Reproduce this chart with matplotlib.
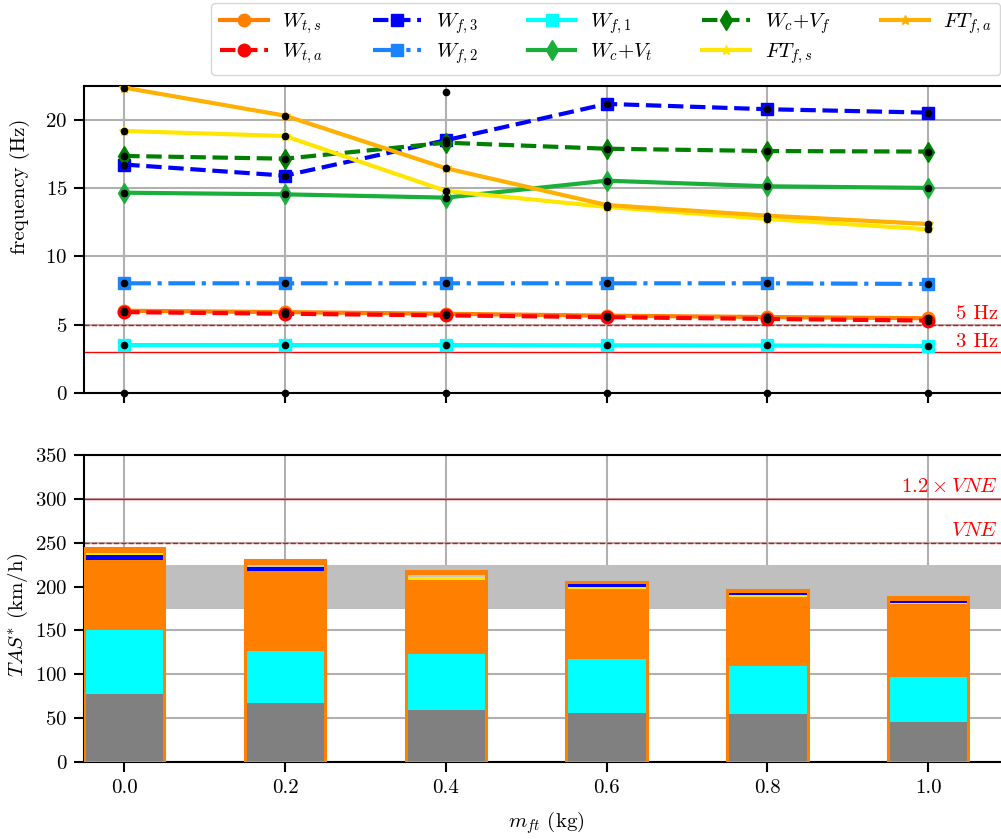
import matplotlib
matplotlib.use("Agg")
import matplotlib.pyplot as plt
import matplotlib.transforms as mtransforms
import numpy as np

plt.rcParams['font.family'] = 'serif'
plt.rcParams['font.serif'] = ['cmr10', 'DejaVu Serif']
plt.rcParams['mathtext.fontset'] = 'cm'
plt.rcParams['axes.formatter.use_mathtext'] = True
plt.rcParams['axes.unicode_minus'] = False

# ---------------- data ----------------
m_ft = [0.0, 0.2, 0.4, 0.6, 0.8, 1.0]

W_ts = [6.02, 5.92, 5.80, 5.66, 5.56, 5.47]
W_ta = [5.92, 5.80, 5.68, 5.55, 5.42, 5.30]
W_f3 = [16.72, 15.91, 18.50, 21.16, 20.77, 20.52]
W_f2 = [8.03, 8.03, 8.03, 8.03, 8.03, 7.98]
W_f1 = [3.51, 3.51, 3.51, 3.49, 3.48, 3.44]
Wc_Vt = [14.66, 14.54, 14.30, 15.54, 15.13, 15.01]
Wc_Vf = [17.35, 17.15, 18.32, 17.88, 17.71, 17.67]
FT_fs = [19.18, 18.81, 14.79, 13.62, 12.74, 11.98]
FT_fa = [22.35, 20.30, 16.45, 13.76, 12.98, 12.37]

# unassigned modes (black dots only)
extra_x = [0.0, 0.2, 0.4, 0.6, 0.8, 1.0, 0.4]
extra_f = [0.0, 0.0, 0.0, 0.0, 0.0, 0.0, 22.05]

# flutter speeds (km/h), overlaid bars
tas_total = [243.6, 230.4, 217.8, 205.4, 196.3, 188.0]
tas_yellow = [238.8, 0.0, 210.8, 199.8, 190.5, 181.5]
tas_silver = [0.0, 224.8, 212.8, 0.0, 0.0, 0.0]
tas_blue = [236.2, 222.0, 0.0, 202.4, 192.5, 183.4]
tas_orange = [229.8, 218.2, 207.0, 196.7, 188.0, 179.6]
tas_cyan = [151.0, 126.8, 123.0, 116.9, 109.7, 97.2]
tas_gray = [77.4, 66.8, 59.0, 55.8, 54.7, 45.6]

band = (175, 225)
VNE = 250

# ---------------- figure ----------------
W, H = 1001, 839
fig = plt.figure(figsize=(W / 100, H / 100), dpi=100)

left = 84 / W
width = 924.6 / W
ax1 = fig.add_axes([left, 1 - 393 / H, width, 307 / H])
ax2 = fig.add_axes([left, 1 - 762 / H, width, 307 / H])

grid_kw = dict(color='#b0b0b0', lw=1.5)
for ax in (ax1, ax2):
    ax.set_axisbelow(True)
    ax.grid(True, **grid_kw)
    ax.set_xlim(-0.05, 1.1)
    ax.set_xticks(m_ft)
    for s in ('left', 'bottom', 'top'):
        ax.spines[s].set_linewidth(1.5)
    ax.spines['right'].set_visible(False)
    ax.tick_params(axis='both', direction='out', length=7, width=1.5,
                   labelsize=15, pad=5)

lw = 3
series = [
    (W_ts, r'$W_{t,s}$', '#ff8000', '-', 'o', 9),
    (W_ta, r'$W_{t,a}$', '#ff0000', '--', 'o', 9),
    (W_f3, r'$W_{f,3}$', '#0000ff', '--', 's', 9),
    (W_f2, r'$W_{f,2}$', '#1a84ff', '-.', 's', 9),
    (W_f1, r'$W_{f,1}$', '#00ffff', '-', 's', 8),
    (Wc_Vt, r'$W_c$+$V_t$', '#1aaf3a', '-', 'd', 10),
    (Wc_Vf, r'$W_c$+$V_f$', '#008000', '--', 'd', 10),
    (FT_fs, r'$FT_{f,s}$', '#ffe600', '-', '*', 7),
    (FT_fa, r'$FT_{f,a}$', '#ffb000', '-', '*', 7),
]
handles = []
for vals, lab, col, ls, mk, ms in series:
    h, = ax1.plot(m_ft, vals, color=col, ls=ls, lw=lw, marker=mk, ms=ms,
                  label=lab, zorder=3)
    handles.append(h)
    ax1.plot(m_ft, vals, ls='none', marker='o', ms=4.5, color='black',
             zorder=5)
ax1.plot(extra_x, extra_f, ls='none', marker='o', ms=4.5, color='black',
         zorder=5, clip_on=False)

ax1.axhline(5, color='red', ls='--', lw=1.0, zorder=2)
ax1.axhline(3, color='red', ls='-', lw=1.0, zorder=2)
tr1 = mtransforms.blended_transform_factory(fig.transFigure, ax1.transData)
ax1.text(0.997, 5.1, '5 Hz', color='red', ha='right', va='bottom',
         fontsize=15, transform=tr1)
ax1.text(0.997, 3.1, '3 Hz', color='red', ha='right', va='bottom',
         fontsize=15, transform=tr1)
ax1.set_ylim(0, 22.47)
ax1.set_yticks([0, 5, 10, 15, 20])
ax1.tick_params(axis='x', labelbottom=False)
ax1.set_ylabel('frequency (Hz)', fontsize=15)
ax1.yaxis.set_label_coords(-0.058, 0.674)

# ---------------- bars ----------------
bw = 0.1
ax2.axhspan(band[0], band[1], color='#bfbfbf', zorder=1, lw=0)
ax2.bar(m_ft, tas_total, width=bw, color='#ff8000', lw=0, zorder=2)
bar_layers = [
    (tas_yellow, '#ffe600'),
    (tas_silver, '#c8c8c0'),
    (tas_blue, '#0000ff'),
    (tas_orange, '#ff8000'),
    (tas_cyan, '#00ffff'),
    (tas_gray, '#808080'),
]
for vals, col in bar_layers:
    bars = ax2.bar(m_ft, vals, width=bw, color=col, lw=0)
    for p, v in zip(bars.patches, vals):
        p.set_zorder(3 + (300 - v) / 1000.0)
ax2.bar(m_ft, tas_total, width=bw, facecolor='none', edgecolor='#ff8000',
        lw=2.2, zorder=4)

ax2.axhline(1.2 * VNE, color='red', ls='-', lw=1.0, zorder=2)
ax2.axhline(VNE, color='red', ls='--', lw=1.0, zorder=2)
tr2 = mtransforms.blended_transform_factory(fig.transFigure, ax2.transData)
ax2.text(0.997, 1.2 * VNE + 3, r'$1.2\times VNE$', color='red', ha='right',
         va='bottom', fontsize=15, transform=tr2)
ax2.text(0.997, VNE + 3, r'$VNE$', color='red', ha='right', va='bottom',
         fontsize=15, transform=tr2)
ax2.set_ylim(0, 350)
ax2.set_yticks(np.arange(0, 351, 50))
ax2.set_xticklabels(['0.0', '0.2', '0.4', '0.6', '0.8', '1.0'])
ax2.set_ylabel(r'$TAS^{*}$ (km/h)', fontsize=15)
ax2.yaxis.set_label_coords(-0.058, 0.48)
ax2.set_xlabel(r'$m_{ft}$ (kg)', fontsize=15, labelpad=9)

fig.legend(handles=handles, ncol=5, loc='upper right',
           bbox_to_anchor=(0.999, 0.9964), fontsize=15, borderaxespad=0,
           handlelength=2.3, handletextpad=0.7, columnspacing=2.4,
           labelspacing=0.25, fancybox=True)

fig.savefig('out.png', dpi=100)
